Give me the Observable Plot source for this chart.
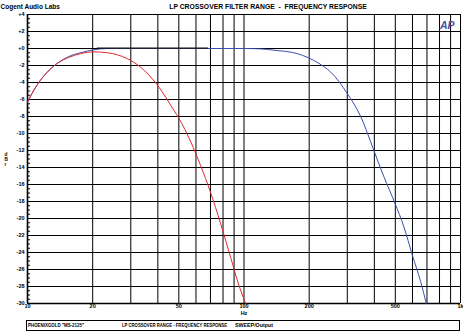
<!DOCTYPE html>
<html><head><meta charset="utf-8">
<script src="https://cdn.jsdelivr.net/npm/d3@7"></script>
<script src="https://cdn.jsdelivr.net/npm/@observablehq/plot@0.6"></script>
<style>body{margin:0;background:#fff} svg{display:block}</style>
</head><body><div id="chart"></div>
<script>
// ---- data ----
const redHz = [10, 10.7, 11.5, 12.6, 14, 15.5, 17.6, 20.3, 23.4, 28.9, 33.3, 39.8, 47.5, 50, 56.8, 63.1, 70, 78, 86.8, 94, 101.8];
const redDb = [-6.3, -4.9, -3.7, -2.55, -1.6, -1.05, -0.6, -0.4, -0.5, -1.2, -2.2, -4.3, -7.3, -8.2, -11.0, -13.8, -16.9, -20.6, -24.6, -27.6, -30];
const blueHz = [10, 10.7, 11.5, 12.6, 14, 15.5, 17.6, 20.3, 23.4, 30, 60, 100, 120, 137.6, 176, 222, 251, 300, 346, 398, 443, 498, 548, 599, 654, 695];
const blueDb = [-6.3, -4.9, -3.7, -2.55, -1.6, -0.95, -0.5, -0.15, 0, 0, 0, 0, -0.05, -0.2, -0.6, -1.76, -2.75, -5.3, -8.0, -12, -15.1, -18.2, -21, -24.3, -27.4, -30];
const blackHz = [21, 68];
const blackDb = [0.05, 0.05];
const gridHz = [10,20,30,40,50,60,70,80,90,100,200,300,400,500,600,700,800,900,1000];
const xTickHz = [10, 20, 50, 100, 200, 500, 1000];
const xTickText = ["10", "20", "50", "100", "200", "500", "1k"];
const yTicks = d3.range(-30, 5, 2);
const yMinor = d3.range(-30, 4.01, 0.5);
const yUnit = ["d", "B", "r"];
const titleText = "LP CROSSOVER FILTER RANGE  -  FREQUENCY RESPONSE";
const brandText = "Cogent Audio Labs";
const footLeft = "PHOENIXGOLD \"MS-2125\"";
const footMid = "LP CROSSOVER RANGE - FREQUENCY RESPONSE";
const footRight = "SWEEP/Output";

const red = redHz.map((f, i) => ({f, db: redDb[i]}));
const blue = blueHz.map((f, i) => ({f, db: blueDb[i]}));
const black = blackHz.map((f, i) => ({f, db: blackDb[i]}));
const font = "'Liberation Sans', Arial, sans-serif";

const chart = Plot.plot({
  width: 463, height: 334,
  marginLeft: 27, marginRight: 3, marginTop: 14, marginBottom: 31,
  x: {type: "log", domain: [10, 1000], axis: null},
  y: {domain: [-30, 4], axis: null},
  style: {fontFamily: font, fontWeight: "bold", background: "#fff", color: "#000"},
  marks: [
    Plot.ruleX(gridHz, {stroke: "#000", strokeWidth: 1, strokeOpacity: 1}),
    Plot.ruleY(yTicks, {stroke: "#000", strokeWidth: 1}),
    Plot.ruleY(yMinor, {x1: 10, x2: 10.33, stroke: "#000"}),
    Plot.ruleX([10], {stroke: "#000", strokeWidth: 1.6}),
    Plot.ruleY([-30], {stroke: "#000", strokeWidth: 1.6}),
    Plot.line(blue, {x: "f", y: "db", stroke: "#3c4fae", strokeWidth: 1, curve: "monotone-x"}),
    Plot.line(red, {x: "f", y: "db", stroke: "#e0282a", strokeWidth: 1, curve: "monotone-x"}),
    Plot.line(black, {x: "f", y: "db", stroke: "#111", strokeWidth: 1.2}),
    Plot.axisY({ticks: yTicks, tickSize: 0, tickPadding: 3, tickFormat: d => d >= 0 ? "+" + d : String(d), fontSize: 5.5, fontWeight: "bold", label: null}),
    Plot.axisX({ticks: xTickHz, tickSize: 0, tickPadding: 0.5, tickFormat: d => xTickText[xTickHz.indexOf(d)], fontSize: 5.5, fontWeight: "bold", label: null}),
    Plot.text(["Hz"], {frameAnchor: "bottom", dy: 11, fontSize: 5.5, fontWeight: "bold"}),
    Plot.text([brandText], {frameAnchor: "top-left", dx: -27, dy: -10, textAnchor: "start", fontSize: 6.5, fontWeight: "bold"}),
    Plot.text([titleText], {frameAnchor: "top", dx: 24, dy: -10, fontSize: 6.8, fontWeight: "bold"}),
    Plot.text(["AP"], {frameAnchor: "top-right", dx: -6, dy: 7, fontSize: 10.5, fontWeight: 900, fontStyle: "italic", fill: "#3f4fa8"}),
    ...yUnit.map((c, i) => Plot.text([c], {frameAnchor: "left", dx: -23, dy: -5 + i * 5, fontSize: 4.8, fontWeight: "bold"}))
  ]
});
document.getElementById("chart").appendChild(chart);

// footer box
const svg = d3.select(chart);
svg.append("rect").attr("x", 26.5).attr("y", 320.5).attr("width", 433).attr("height", 10)
  .attr("fill", "none").attr("stroke", "#000").attr("stroke-width", 1);
const ft = svg.append("g").attr("font-family", font).attr("font-weight", "bold").attr("font-size", 4.6)
  .attr("fill", "#000").attr("text-anchor", "start");
[[footLeft, 28, 56], [footMid, 122, 105], [footRight, 235, 38]].forEach(([t, x, w]) => {
  ft.append("text").attr("x", x).attr("y", 327.4).attr("textLength", w)
    .attr("lengthAdjust", "spacingAndGlyphs").text(t);
});
</script>
</body></html>
